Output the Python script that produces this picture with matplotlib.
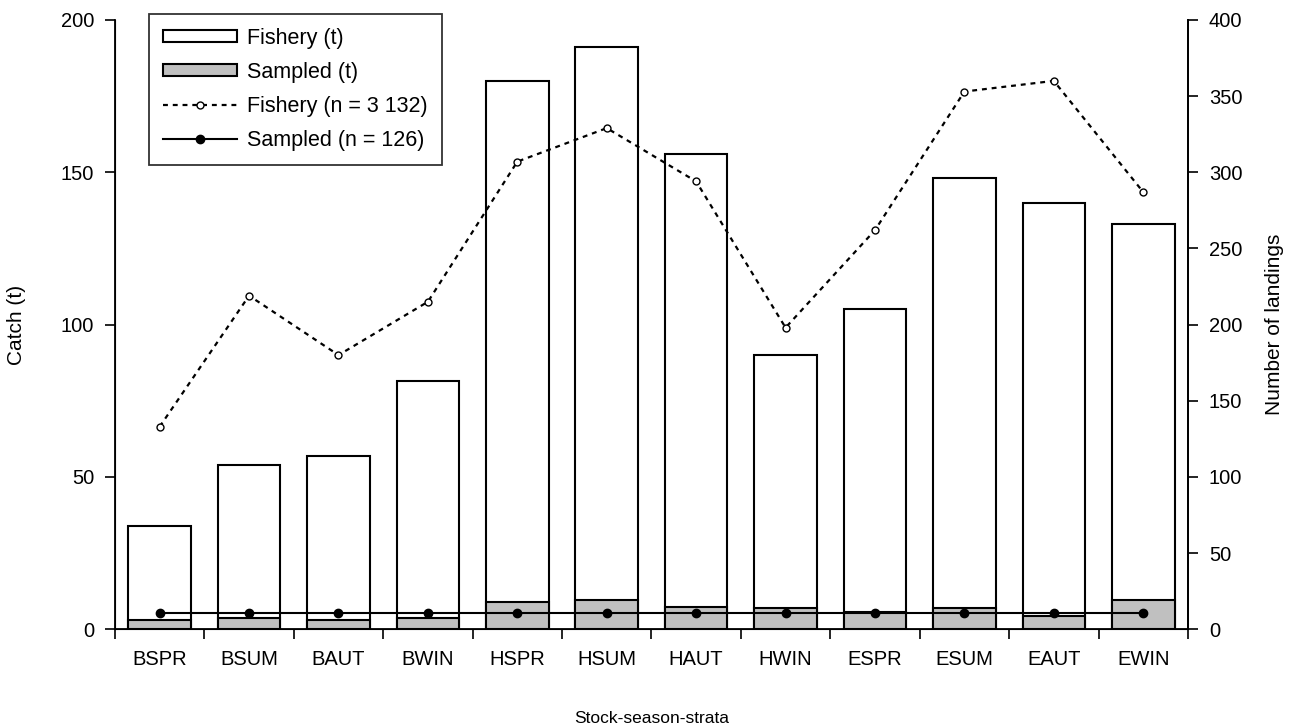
import matplotlib.pyplot as plt
import numpy as np

plt.rcParams['font.family'] = ['Liberation Sans', 'DejaVu Sans']

# data
strata = ['BSPR', 'BSUM', 'BAUT', 'BWIN', 'HSPR', 'HSUM',
          'HAUT', 'HWIN', 'ESPR', 'ESUM', 'EAUT', 'EWIN']
fishery_t = [34, 54, 57, 81.5, 180, 191, 156, 90, 105, 148, 140, 133]
sampled_t = [3.0, 3.8, 3.0, 3.8, 9.0, 9.6, 7.2, 7.0, 5.8, 6.9, 4.4, 9.6]
fishery_n = [133, 219, 180, 215, 307, 329, 294, 198, 262, 353, 360, 287]
sampled_n = [10.5, 10.5, 10.5, 10.5, 10.5, 10.5, 10.5, 10.5, 10.5, 10.5, 10.5, 10.5]

x = np.arange(len(strata))

fig = plt.figure(figsize=(12.99, 7.28), dpi=100)
ax = fig.add_axes([0.0885, 0.1356, 0.826, 0.837])
ax_w = 0.826 * 1299  # axes width in pixels, used to place the y labels

# bars on the left axis
b1 = ax.bar(x, fishery_t, width=0.7, color='white', edgecolor='black',
            linewidth=1.5, label='Fishery (t)')
b2 = ax.bar(x, sampled_t, width=0.7, color='#c0c0c0', edgecolor='black',
            linewidth=1.5, label='Sampled (t)')

ax.set_xlim(-0.5, len(strata) - 0.5)
ax.set_ylim(0, 200)
ax.set_yticks([0, 50, 100, 150, 200])
ax.set_xticks(np.arange(-0.5, len(strata)), [''] * (len(strata) + 1))
ax.set_xticks(x, strata, minor=True)
ax.tick_params(axis='x', which='major', length=7, width=1.2, direction='out')
ax.tick_params(axis='x', which='minor', length=0, pad=15, labelsize=14.5)
ax.tick_params(axis='y', length=7, width=1.2, labelsize=14.5, pad=8)
ax.spines['top'].set_visible(False)
for s in ['left', 'bottom', 'right']:
    ax.spines[s].set_linewidth(1.3)
ax.set_ylabel('Catch (t)', fontsize=15)
ax.yaxis.set_label_coords(-(115 - 26) / ax_w, 0.5)
ax.set_xlabel('Stock-season-strata', fontsize=12.5, labelpad=30)

# landings on the right axis
ax2 = ax.twinx()
l1, = ax2.plot(x, fishery_n, color='black', linewidth=1.6, dashes=(2.2, 2.2),
               marker='o', markersize=5, markerfacecolor='white',
               markeredgewidth=1.0, label='Fishery (n = 3 132)')
l2, = ax2.plot(x, sampled_n, color='black', linewidth=1.5, marker='o',
               markersize=6, markerfacecolor='black',
               label='Sampled (n = 126)')
ax2.set_ylim(0, 400)
ax2.set_yticks(np.arange(0, 401, 50))
ax2.tick_params(axis='y', length=7, width=1.2, labelsize=14.5, pad=8)
ax2.spines['top'].set_visible(False)
ax2.spines['right'].set_linewidth(1.3)
ax2.set_ylabel('Number of landings', fontsize=15)
ax2.yaxis.set_label_coords(1 + (1265 - 1188) / ax_w, 0.5)

leg = ax2.legend(handles=[b1, b2, l1, l2], loc='upper left',
                 bbox_to_anchor=(149 / 1299, 1 - 14 / 728),
                 bbox_transform=fig.transFigure, fontsize=15.5,
                 frameon=True, fancybox=False, edgecolor='black',
                 handlelength=3.45, handleheight=0.5, borderpad=0.65,
                 labelspacing=0.6, handletextpad=0.45, borderaxespad=0)
leg.get_frame().set_linewidth(1.3)

fig.savefig('out.png', dpi=100)
